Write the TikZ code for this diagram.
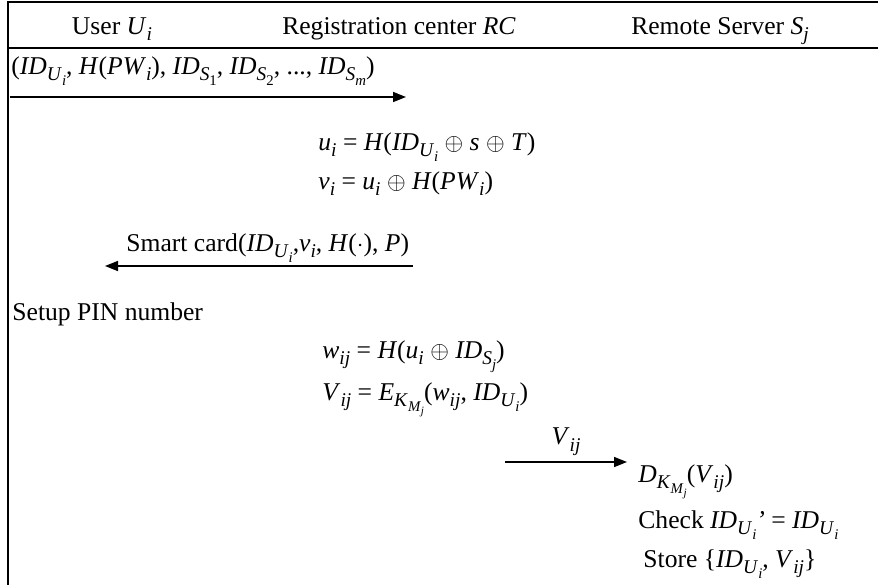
\documentclass[tikz,border=0pt]{standalone}
\usepackage{fontspec}
\setmainfont{Liberation Serif}
\usetikzlibrary{arrows.meta}

% italic variable names; subscripts are lowered and shrunk relative to the current size
\newcommand\mv[1]{\textit{#1}}
\makeatletter
\newcommand\dsub[1]{\raisebox{-0.25em}{\fontsize{\fpeval{0.76*\f@size}}{\fpeval{0.9*\f@size}}\selectfont #1}}
\makeatother
\newcommand\IDU{\mv{ID}\dsub{\mv{U}\dsub{\mv{i}}}}
\newcommand\KMj{\dsub{\mv{K}\dsub{\mv{M}\dsub{\mv{j}}}}}

\tikzset{
  frame/.style={line width=1.2pt},
  msg/.style={line width=0.8pt, -{Triangle[length=6.5pt,width=5pt]}},
  lbl/.style={inner sep=0pt, font=\fontsize{12.8}{15}\selectfont},
}

\begin{document}
\begin{tikzpicture}[x=0.5pt,y=-0.5pt]
\useasboundingbox (0,0) rectangle (878,585);

% table frame
\draw[frame] (878,2) -- (8,2) -- (8,585);
\draw[frame] (8,48) -- (878,48);

% column headers
\node[lbl, anchor=base] (hU)  at (112,34) {User \mv{U}\dsub{\mv{i}}};
\node[lbl, anchor=base] (hRC) at (399,34) {Registration center \mv{RC}};
\node[lbl, anchor=base] (hS)  at (720,34) {Remote Server \mv{S}\dsub{\mv{j}}};

% registration request
\node[lbl, anchor=base west] (m1) at (11,74)
  {(\IDU, \mv{H}(\mv{PW}\dsub{\mv{i}}), \mv{ID}\dsub{\mv{S}\dsub{1}}, \mv{ID}\dsub{\mv{S}\dsub{2}}, ..., \mv{ID}\dsub{\mv{S}\dsub{\mv{m}}})};
\coordinate (a1s) at (10,97);
\coordinate (a1e) at (406,97);
\draw[msg] (a1s) -- (a1e);

% RC computations
\node[lbl, anchor=base west] (ui) at (318,150)
  {\mv{u}\dsub{\mv{i}} = \mv{H}(\IDU{} $\oplus$ \mv{s} $\oplus$ \mv{T})};
\node[lbl, anchor=base west] (vi) at (318,189)
  {\mv{v}\dsub{\mv{i}} = \mv{u}\dsub{\mv{i}} $\oplus$ \mv{H}(\mv{PW}\dsub{\mv{i}})};

% smart card issue
\node[lbl, anchor=base west] (sc) at (126,251)
  {Smart card(\IDU,\mv{v}\dsub{\mv{i}}, \mv{H}($\cdot$), \mv{P})};
\coordinate (a2s) at (413,266);
\coordinate (a2e) at (105,266);
\draw[msg] (a2s) -- (a2e);

\node[lbl, anchor=base west] (pin) at (12,320) {Setup PIN number};

% per-server values
\node[lbl, anchor=base west] (wij) at (322,358)
  {\mv{w}\dsub{\mv{ij}} = \mv{H}(\mv{u}\dsub{\mv{i}} $\oplus$ \mv{ID}\dsub{\mv{S}\dsub{\mv{j}}})};
\node[lbl, anchor=base west] (Vij) at (322,400)
  {\mv{V}\dsub{\mv{ij}} = \mv{E}\KMj(\mv{w}\dsub{\mv{ij}}, \IDU)};

% transfer to the server
\coordinate (a3s) at (505,462);
\coordinate (a3e) at (627,462);
\draw[msg] (a3s) -- node[lbl, above=3pt] (vl) {\mv{V}\dsub{\mv{ij}}} (a3e);

% server side
\node[lbl, anchor=base west] (dk) at (638,482)
  {\mv{D}\KMj(\mv{V}\dsub{\mv{ij}})};
\node[lbl, anchor=base west] (chk) at (638,528)
  {Check \IDU\textit{'} = \IDU};
\node[lbl, anchor=base west] (st) at (643,567)
  {Store \{\IDU, \mv{V}\dsub{\mv{ij}}\}};
\end{tikzpicture}
\end{document}
